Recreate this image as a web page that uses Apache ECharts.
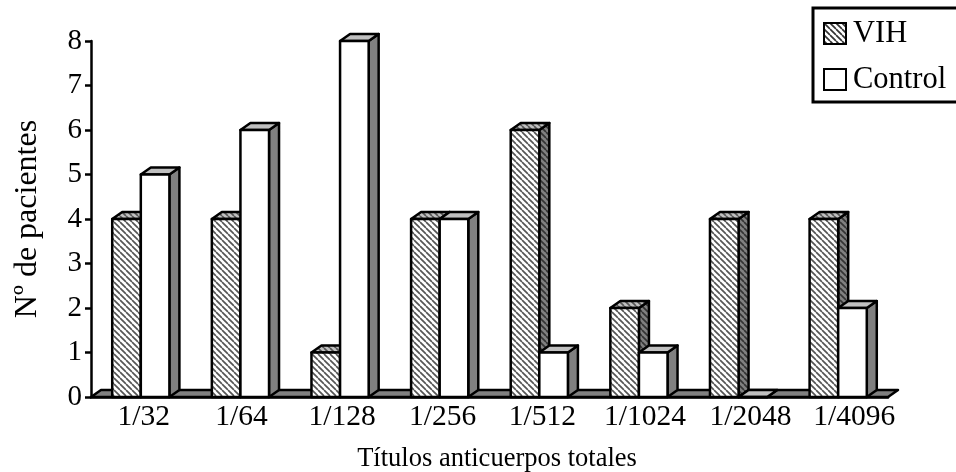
<!DOCTYPE html>
<html><head><meta charset="utf-8">
<style>html,body{margin:0;padding:0;background:#fff;overflow:hidden}#c{width:956px;height:472px}</style>
<script src="https://cdn.jsdelivr.net/npm/echarts@6/dist/echarts.min.js"></script>
</head><body><div id="c"></div>
<script>
const categories = ['1/32','1/64','1/128','1/256','1/512','1/1024','1/2048','1/4096'];
const vih = [4,4,1,4,6,2,4,4];
const control = [5,6,8,4,1,1,0,2];
const yTicks = [0,1,2,3,4,5,6,7,8];

function hatch(bg, fg){
  const s = 6, c = document.createElement('canvas');
  c.width = s; c.height = s;
  const g = c.getContext('2d');
  g.fillStyle = bg; g.fillRect(0,0,s,s);
  g.strokeStyle = fg; g.lineWidth = 1.7;
  for (let i=-s;i<=s;i+=s){ g.beginPath(); g.moveTo(i,0); g.lineTo(i+s,s); g.stroke(); }
  return {image:c, repeat:'repeat'};
}
const serif = '"Liberation Serif","Times New Roman",serif';
const DX = 10, DY = 7;
const labelShift = [3,1,2,3,3,6,12,16];

function bar(offset, face, side, top){
  return function(params, api){
    const v = api.value(1), i = api.value(0);
    const base = api.coord([i,0]), head = api.coord([i,v]);
    const band = api.size([1,0])[0], w = band*0.287;
    const x0 = base[0] + offset*w, x1 = x0 + w, y0 = base[1], y1 = head[1];
    const st = {stroke:'#000', lineWidth:2.5, lineJoin:'round'};
    return {type:'group', children:[
      {type:'polygon', shape:{points:[[x1,y1],[x1+DX,y1-DY],[x1+DX,y0-DY],[x1,y0]]}, style:Object.assign({fill:side},st)},
      {type:'polygon', shape:{points:[[x0,y1],[x0+DX,y1-DY],[x1+DX,y1-DY],[x1,y1]]}, style:Object.assign({fill:top},st)},
      {type:'rect', shape:{x:x0,y:y1,width:w,height:y0-y1}, style:Object.assign({fill:face},st)}
    ]};
  };
}
function floor(params, api){
  const band = api.size([1,0])[0];
  const a = api.coord([0,0]), b = api.coord([categories.length-1,0]);
  const l = a[0]-band/2, r = b[0]+band/2, y = a[1];
  return {type:'polygon', shape:{points:[[l,y],[l+DX,y-DY],[r+DX,y-DY],[r,y]]},
    style:{fill:'#808080',stroke:'#000',lineWidth:2.5,lineJoin:'round'}};
}
const vihFace = hatch('#ffffff','#555555');
const vihSide = hatch('#808080','#333333');
const vihTop = hatch('#c0c0c0','#555555');

const chart = echarts.init(document.getElementById('c'),null,{renderer:'canvas'});
chart.setOption({
  animation:false,
  backgroundColor:'#fff',
  grid:{left:91,right:68,top:41,bottom:75,outerBoundsMode:'none',containLabel:false},
  legend:{
    data:['VIH','Control'], orient:'vertical', left:813, top:8,
    padding:[10,40,7,10], itemGap:15, itemWidth:22, itemHeight:21,
    borderColor:'#000', borderWidth:3, backgroundColor:'#fff', icon:'rect',
    selectedMode:false,
    textStyle:{fontFamily:serif,fontSize:30.5,color:'#000',padding:[0,0,0,2]}
  },
  xAxis:{
    type:'category', data:categories,
    name:'Títulos anticuerpos totales', nameLocation:'middle', nameGap:49,
    nameTextStyle:{fontFamily:serif,fontSize:26.5,color:'#000',padding:[0,0,0,15]},
    axisLine:{lineStyle:{color:'#000',width:2.5}},
    axisTick:{length:6,lineStyle:{color:'#000',width:2.5},alignWithLabel:false},
    axisLabel:{
      interval:0, margin:5, hideOverlap:false, color:'#000', fontFamily:serif, fontSize:29.5,
      formatter:(v,i)=>'{s'+i+'|'+v+'}',
      rich:Object.fromEntries(labelShift.map((s,i)=>['s'+i,{fontFamily:serif,fontSize:29.5,color:'#000',padding:[0,0,0,s*2]}]))
    }
  },
  yAxis:{
    type:'value', min:0, max:8, interval:1,
    name:'Nº de pacientes', nameLocation:'middle', nameGap:47, nameRotate:90,
    nameTextStyle:{fontFamily:serif,fontSize:32,color:'#000'},
    splitLine:{show:false},
    axisLine:{show:true,lineStyle:{color:'#000',width:2.5}},
    axisTick:{show:true,length:6,lineStyle:{color:'#000',width:2.5}},
    axisLabel:{margin:9,color:'#000',fontFamily:serif,fontSize:29,
      customValues:yTicks}
  },
  series:[
    {type:'custom',name:'floor',renderItem:floor,data:[[0,0]],encode:{x:0,y:1},z:1,silent:true},
    {type:'custom',name:'VIH',renderItem:bar(-1,vihFace,vihSide,vihTop),
      data:vih.map((v,i)=>[i,v]),encode:{x:0,y:1},z:2,
      itemStyle:{color:hatch('#ffffff','#333333'),borderColor:'#000',borderWidth:2.5}},
    {type:'custom',name:'Control',renderItem:bar(0,'#ffffff','#808080','#c0c0c0'),
      data:control.map((v,i)=>[i,v]),encode:{x:0,y:1},z:3,
      itemStyle:{color:'#ffffff',borderColor:'#000',borderWidth:2.5}}
  ]
});
</script></body></html>
